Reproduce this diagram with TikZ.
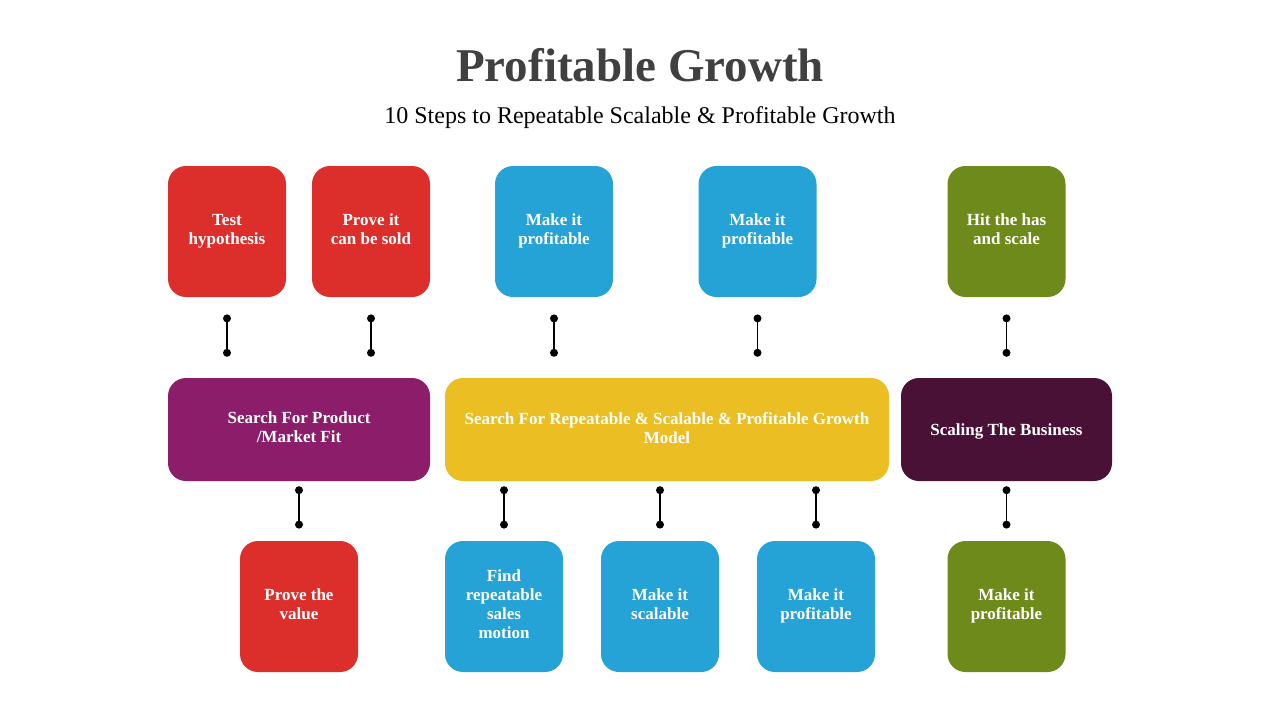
\documentclass[tikz,border=0pt]{standalone}
\usepackage{fontspec}
\setmainfont{Liberation Serif}
\usepackage{xcolor}
\definecolor{cRed}{HTML}{DC2E2B}
\definecolor{cBlue}{HTML}{25A2D6}
\definecolor{cGreen}{HTML}{6E8A1A}
\definecolor{cPurple}{HTML}{8C1D6A}
\definecolor{cYellow}{HTML}{EBBE23}
\definecolor{cPlum}{HTML}{4A1136}
\definecolor{cTitle}{HTML}{404040}
\usepackage{tikz}
\usetikzlibrary{positioning}
\tikzset{
  step-box/.style={rounded corners=18pt,minimum width=118pt,minimum height=131pt,
    inner sep=0pt,align=center,text=white,font=\bfseries\fontsize{17}{19}\selectfont,
    execute at begin node=\rule{0pt}{16.5pt},execute at end node=\rule[-3.9pt]{0pt}{3.9pt}},
  phase-box/.style={rounded corners=18pt,minimum height=103pt,
    inner sep=0pt,align=center,text=white,font=\bfseries\fontsize{17}{19}\selectfont,
    execute at begin node=\rule{0pt}{16.5pt},execute at end node=\rule[-3.9pt]{0pt}{3.9pt}},
  step-red/.style={fill=cRed},
  step-blue/.style={fill=cBlue},
  step-green/.style={fill=cGreen},
  pin-dot/.style={circle,fill=black,minimum size=8pt,inner sep=0pt},
  pin-line/.style={line width=1.2pt,draw=black},
}

\begin{document}
\begin{tikzpicture}[x=1pt,y=-1pt]
  \useasboundingbox[fill=white] (0,0) rectangle (1280,720);
  \node[font=\bfseries\fontsize{47}{52}\selectfont,text=cTitle] (title) at (640,65) {Profitable Growth};
  \node[font=\fontsize{24}{28}\selectfont,text=black] (subtitle) at (640,118) {10 Steps to Repeatable Scalable \& Profitable Growth};
  % top row
  \node[step-box,step-red]   (t1) at (227,231.5)    {Test\\hypothesis};
  \node[step-box,step-red]   (t2) at (371,231.5)    {Prove it\\can be sold};
  \node[step-box,step-blue]  (t3) at (554,231.5)    {Make it\\profitable};
  \node[step-box,step-blue]  (t4) at (757.5,231.5)  {Make it\\profitable};
  \node[step-box,step-green] (t5) at (1006.5,231.5) {Hit the has\\and scale};
  % phases
  \node[phase-box,fill=cPurple,minimum width=262pt] (p1) at (299,429.5)    {Search For Product\\/Market Fit};
  \node[phase-box,fill=cYellow,minimum width=444pt] (p2) at (667,429.5)    {Search For Repeatable \& Scalable \& Profitable Growth\\Model};
  \node[phase-box,fill=cPlum,minimum width=211pt]   (p3) at (1006.5,429.5) {Scaling The Business};
  % bottom row
  \node[step-box,step-red]   (b1) at (299,606.5)    {Prove the\\value};
  \node[step-box,step-blue]  (b2) at (504,606.5)    {Find\\repeatable\\sales\\motion};
  \node[step-box,step-blue]  (b3) at (660,606.5)    {Make it\\scalable};
  \node[step-box,step-blue]  (b4) at (816,606.5)    {Make it\\profitable};
  \node[step-box,step-green] (b5) at (1006.5,606.5) {Make it\\profitable};
  % pins under the top row
  \node[pin-dot,below=17pt of t1] (t1a) {};  \node[pin-dot,below=26pt of t1a] (t1b) {};
  \node[pin-dot,below=17pt of t2] (t2a) {};  \node[pin-dot,below=26pt of t2a] (t2b) {};
  \node[pin-dot,below=17pt of t3] (t3a) {};  \node[pin-dot,below=26pt of t3a] (t3b) {};
  \node[pin-dot,below=17pt of t4] (t4a) {};  \node[pin-dot,below=26pt of t4a] (t4b) {};
  \node[pin-dot,below=17pt of t5] (t5a) {};  \node[pin-dot,below=26pt of t5a] (t5b) {};
  % pins over the bottom row
  \node[pin-dot,above=12pt of b1] (b1b) {};  \node[pin-dot,above=26pt of b1b] (b1a) {};
  \node[pin-dot,above=12pt of b2] (b2b) {};  \node[pin-dot,above=26pt of b2b] (b2a) {};
  \node[pin-dot,above=12pt of b3] (b3b) {};  \node[pin-dot,above=26pt of b3b] (b3a) {};
  \node[pin-dot,above=12pt of b4] (b4b) {};  \node[pin-dot,above=26pt of b4b] (b4a) {};
  \node[pin-dot,above=12pt of b5] (b5b) {};  \node[pin-dot,above=26pt of b5b] (b5a) {};
  \draw[pin-line] (t1a.center) -- (t1b.center);
  \draw[pin-line] (t2a.center) -- (t2b.center);
  \draw[pin-line] (t3a.center) -- (t3b.center);
  \draw[pin-line] (t4a.center) -- (t4b.center);
  \draw[pin-line] (t5a.center) -- (t5b.center);
  \draw[pin-line] (b1a.center) -- (b1b.center);
  \draw[pin-line] (b2a.center) -- (b2b.center);
  \draw[pin-line] (b3a.center) -- (b3b.center);
  \draw[pin-line] (b4a.center) -- (b4b.center);
  \draw[pin-line] (b5a.center) -- (b5b.center);
\end{tikzpicture}
\end{document}
